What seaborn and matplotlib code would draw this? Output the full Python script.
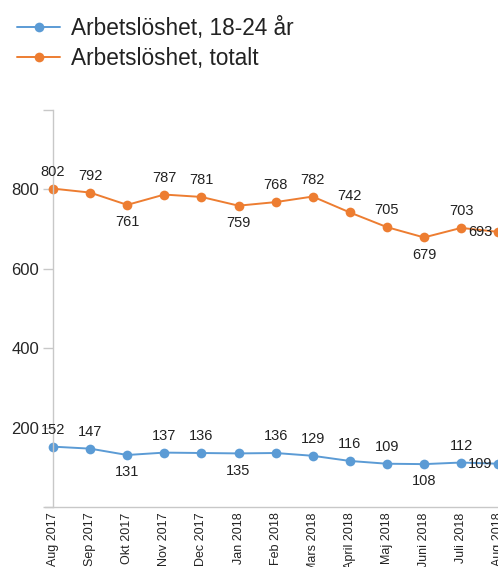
import numpy as np
import pandas as pd
import matplotlib
matplotlib.use("Agg")
import matplotlib.pyplot as plt
import seaborn as sns

# data
months = ["Aug 2017", "Sep 2017", "Okt 2017", "Nov 2017", "Dec 2017", "Jan 2018",
          "Feb 2018", "Mars 2018", "April 2018", "Maj 2018", "Juni 2018", "Juli 2018",
          "Aug 2018"]
ungdom = [152, 147, 131, 137, 136, 135, 136, 129, 116, 109, 108, 112, 109]
totalt = [802, 792, 761, 787, 781, 759, 768, 782, 742, 705, 679, 703, 693]
label_ungdom = "Arbetslöshet, 18-24 år"
label_totalt = "Arbetslöshet, totalt"
# where each value label sits: u = above, d = below, l = left
pos_ungdom = ["u", "u", "d", "u", "u", "d", "u", "u", "u", "u", "d", "u", "l"]
pos_totalt = ["u", "u", "d", "u", "u", "d", "u", "u", "u", "u", "d", "u", "l"]

BLUE = "#5b9bd5"
ORANGE = "#ed7d31"
AXIS = "#c8c8c8"
TXT = "#222222"

sns.set_style("white")
plt.rcParams["font.family"] = ["Liberation Sans", "DejaVu Sans"]

W, H = 498, 567
fig = plt.figure(figsize=(W / 100, H / 100), dpi=100)

# axes: x=0 at 53px, step ~37.1px; y=0 at 507px, y=1000 at 110px
x0_px, step_px = 53, 37.1
xmin, xmax = -0.22, 12.6
left_px = x0_px + xmin * step_px
width_px = (xmax - xmin) * step_px
bottom_px, top_px = 507, 110
ax = fig.add_axes([left_px / W, (H - bottom_px) / H, width_px / W, (bottom_px - top_px) / H])

x = np.arange(len(months))
df = pd.DataFrame({"x": x, "ungdom": ungdom, "totalt": totalt})

sns.lineplot(data=df, x="x", y="ungdom", ax=ax, color=BLUE, marker="o", markersize=7,
             markeredgewidth=0, linewidth=1.4, label=label_ungdom, clip_on=False)
sns.lineplot(data=df, x="x", y="totalt", ax=ax, color=ORANGE, marker="o", markersize=7,
             markeredgewidth=0, linewidth=1.4, label=label_totalt, clip_on=False)

def annotate(vals, where):
    for xi, v, w in zip(x, vals, where):
        if w == "u":
            ax.annotate(str(v), (xi, v), xytext=(0, 12), textcoords="offset points",
                        ha="center", va="center", fontsize=10.5, color=TXT)
        elif w == "d":
            ax.annotate(str(v), (xi, v), xytext=(0, -12.5), textcoords="offset points",
                        ha="center", va="center", fontsize=10.5, color=TXT)
        else:
            ax.annotate(str(v), (xi, v), xytext=(-4, 0), textcoords="offset points",
                        ha="right", va="center", fontsize=10.5, color=TXT)

annotate(ungdom, pos_ungdom)
annotate(totalt, pos_totalt)

ax.set_xlim(xmin, xmax)
ax.set_ylim(0, 1000)
ax.set_xticks(x)
ax.set_xticklabels(months, rotation=90, ha="center", va="top", color=TXT)
ax.set_yticks([0, 200, 400, 600, 800, 1000])
ax.set_yticklabels(["", "200", "400", "600", "800", ""], color=TXT)
ax.tick_params(axis="x", length=0, pad=4, labelsize=9)
ax.tick_params(axis="y", length=7, width=1, color=AXIS, pad=3, left=True, labelsize=12)
ax.set_xlabel("")
ax.set_ylabel("")

for s in ["top", "right"]:
    ax.spines[s].set_visible(False)
ax.spines["left"].set_position(("data", 0))
ax.spines["left"].set_color(AXIS)
ax.spines["bottom"].set_color(AXIS)
ax.spines["left"].set_linewidth(1)
ax.spines["bottom"].set_linewidth(1)
ax.grid(False)

ax.legend(loc="upper left", bbox_to_anchor=(8 / W, 1 - 8 / H), bbox_transform=fig.transFigure,
          frameon=False, fontsize=16.3, handlelength=1.9, handletextpad=0.5,
          labelspacing=0.32, borderaxespad=0, labelcolor=TXT)

fig.savefig("out.png", dpi=100)
